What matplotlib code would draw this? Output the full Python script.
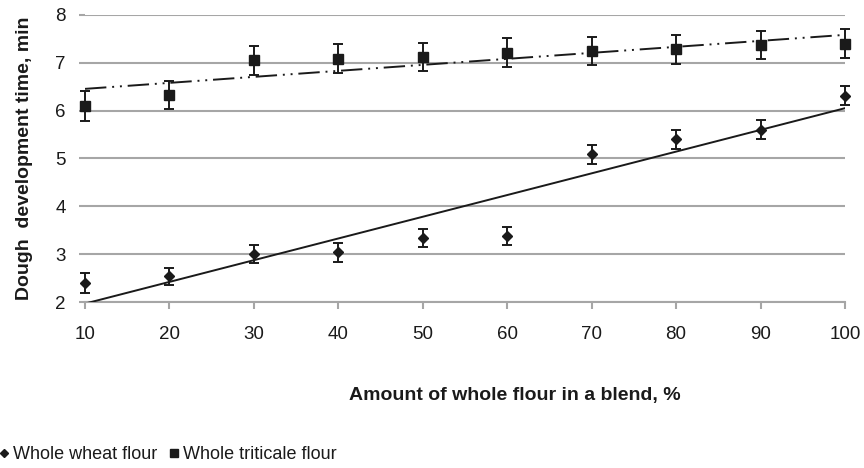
import numpy as np
import matplotlib.pyplot as plt
from matplotlib.lines import Line2D

plt.rcParams['font.family'] = ['Liberation Sans', 'DejaVu Sans']

# ── Data ────────────────────────────────────────────────────────────────────
blend = [10, 20, 30, 40, 50, 60, 70, 80, 90, 100]
wheat = [2.39, 2.54, 3.00, 3.04, 3.34, 3.38, 5.09, 5.40, 5.60, 6.31]
wheat_err = [0.21, 0.18, 0.19, 0.20, 0.18, 0.18, 0.20, 0.20, 0.20, 0.20]
triticale = [6.10, 6.33, 7.05, 7.09, 7.12, 7.21, 7.25, 7.28, 7.37, 7.40]
triticale_err = [0.31, 0.30, 0.31, 0.30, 0.30, 0.30, 0.30, 0.30, 0.29, 0.30]

grid_col = '#a6a6a6'
mark_col = '#1a1a1a'

fig = plt.figure(figsize=(8.64, 4.68), dpi=100)
ax = fig.add_axes([0.0984, 0.3547, 0.8796, 0.6133])

x = np.array(blend, dtype=float)

# error bars + markers
ax.errorbar(x, wheat, yerr=wheat_err, fmt='D', ms=5.5, color=mark_col,
            ecolor=mark_col, elinewidth=1.4, capsize=3.8, capthick=1.4,
            zorder=4, clip_on=False)
ax.errorbar(x, triticale, yerr=triticale_err, fmt='s', ms=7, color=mark_col,
            ecolor=mark_col, elinewidth=1.4, capsize=3.8, capthick=1.4,
            zorder=4, clip_on=False)

# linear trend lines
xs = np.array([x.min(), x.max()])
kw = np.polyfit(x, wheat, 1)
kt = np.polyfit(x, triticale, 1)
ax.plot(xs, np.polyval(kw, xs), color=mark_col, lw=1.4, zorder=3)
ax.plot(xs, np.polyval(kt, xs), color=mark_col, lw=1.4, zorder=3,
        dashes=[11, 3, 1, 3, 1, 3])

# ── Axes styling ────────────────────────────────────────────────────────────
ax.set_xlim(10, 100)
ax.set_ylim(2, 8)
ax.set_xticks(blend)
ax.set_yticks(range(2, 9))
ax.yaxis.grid(True, color=grid_col, lw=1.5)
ax.set_axisbelow(True)
for s in ['top', 'right', 'left']:
    ax.spines[s].set_visible(False)
ax.spines['bottom'].set_color(grid_col)
ax.spines['bottom'].set_linewidth(1.5)
ax.tick_params(axis='x', colors=grid_col, length=5, width=1.5, pad=12,
               labelsize=13.5, labelcolor='#1a1a1a')
ax.tick_params(axis='y', colors=grid_col, length=4, width=1.5, pad=10,
               labelsize=13.5, labelcolor='#1a1a1a')

ax.set_ylabel('Dough  development time, min', fontsize=14,
              fontweight='bold', labelpad=16, color='#1a1a1a')
ax.set_xlabel('Amount of whole flour in a blend, %', fontsize=14,
              fontweight='bold', color='#1a1a1a')
ax.xaxis.set_label_coords(0.566, -0.295)

# ── Legend at bottom-left ───────────────────────────────────────────────────
handles = [
    Line2D([], [], marker='D', ms=4, ls='none', color=mark_col),
    Line2D([], [], marker='s', ms=6, ls='none', color=mark_col),
]
fig.legend(handles, ['Whole wheat flour', 'Whole triticale flour'],
           loc='lower left', bbox_to_anchor=(-0.02, -0.024), ncol=2,
           frameon=False, fontsize=13, handlelength=0.6,
           handletextpad=0.2, columnspacing=0.6, labelcolor='#1a1a1a')

fig.savefig('out.png', dpi=100)
